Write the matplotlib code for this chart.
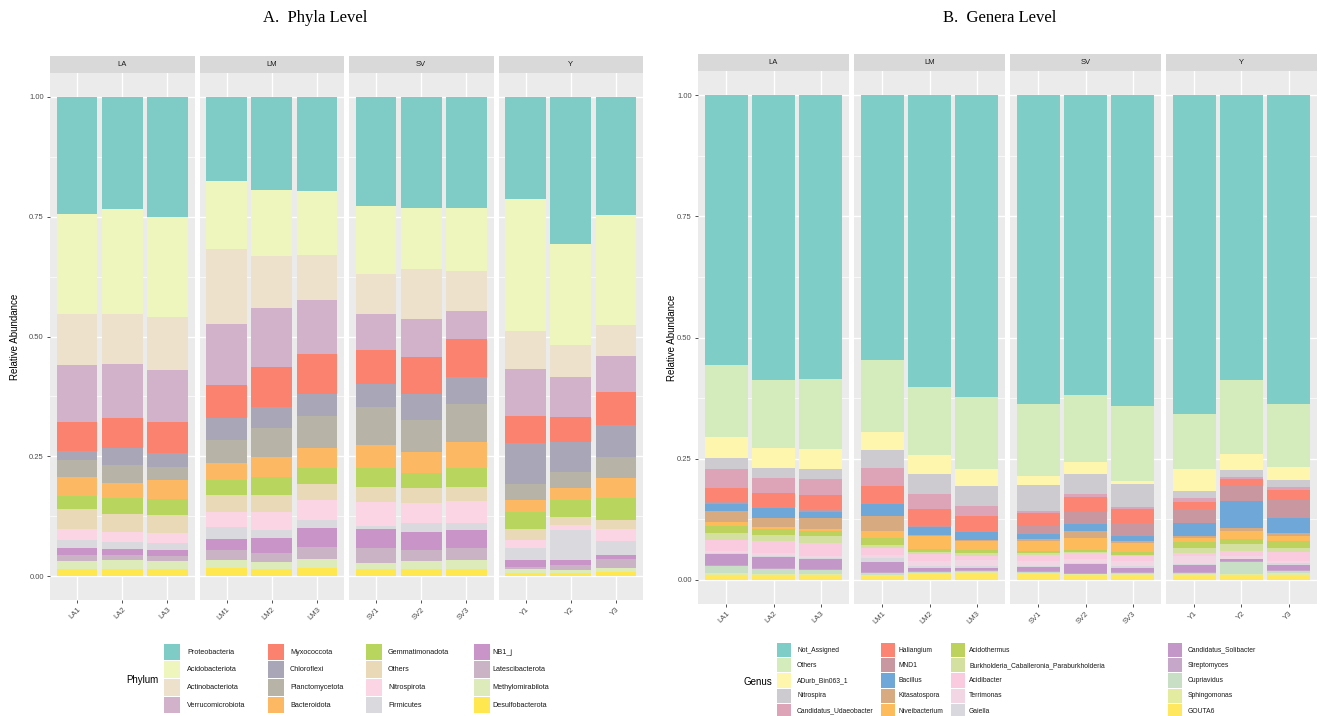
import matplotlib.pyplot as plt
import numpy as np
from matplotlib.patches import Rectangle

# figure size in pixels
W, H = 1321, 716

groups = ['LA', 'LM', 'SV', 'Y']
samples = ['LA1', 'LA2', 'LA3', 'LM1', 'LM2', 'LM3', 'SV1', 'SV2', 'SV3', 'Y1', 'Y2', 'Y3']
sample_group = ['LA', 'LA', 'LA', 'LM', 'LM', 'LM', 'SV', 'SV', 'SV', 'Y', 'Y', 'Y']

# ---- phyla (stack order top -> bottom), values per sample ----
phyla = ['Proteobacteria', 'Acidobacteriota', 'Actinobacteriota', 'Verrucomicrobiota',
         'Myxococcota', 'Chloroflexi', 'Planctomycetota', 'Bacteroidota',
         'Gemmatimonadota', 'Others', 'Nitrospirota', 'Firmicutes',
         'NB1_j', 'Latescibacterota', 'Methylomirabilota', 'Desulfobacterota']
phyla_colors = ['#7FCBC6', '#EEF6BE', '#EDE1CB', '#D2B1CB', '#FC8270', '#A9A6B8',
                '#B7B3A6', '#FDB863', '#B8D65E', '#E9D9B7', '#FBD5E4', '#DAD9DD',
                '#C995C8', '#C9B3C5', '#DDEBBA', '#FFE84F']

proteobacteria = [0.244, 0.233, 0.250, 0.176, 0.194, 0.196, 0.227, 0.231, 0.232, 0.213, 0.307, 0.246]
acidobacteriota = [0.208, 0.219, 0.210, 0.141, 0.137, 0.134, 0.142, 0.128, 0.132, 0.275, 0.210, 0.229]
actinobacteriota = [0.108, 0.106, 0.109, 0.156, 0.110, 0.093, 0.083, 0.104, 0.083, 0.079, 0.068, 0.065]
verrucomicrobiota = [0.119, 0.113, 0.110, 0.129, 0.123, 0.113, 0.077, 0.080, 0.058, 0.098, 0.083, 0.076]
myxococcota = [0.059, 0.062, 0.064, 0.069, 0.083, 0.083, 0.070, 0.076, 0.080, 0.057, 0.052, 0.069]
chloroflexi = [0.020, 0.036, 0.029, 0.046, 0.045, 0.046, 0.048, 0.056, 0.055, 0.085, 0.063, 0.067]
planctomycetota = [0.035, 0.037, 0.028, 0.048, 0.060, 0.068, 0.080, 0.066, 0.080, 0.035, 0.034, 0.044]
bacteroidota = [0.040, 0.032, 0.040, 0.035, 0.041, 0.042, 0.048, 0.044, 0.055, 0.024, 0.025, 0.041]
gemmatimonadota = [0.027, 0.033, 0.033, 0.031, 0.038, 0.032, 0.039, 0.032, 0.039, 0.036, 0.034, 0.046]
others_p = [0.042, 0.037, 0.037, 0.035, 0.035, 0.035, 0.031, 0.031, 0.029, 0.023, 0.018, 0.019]
nitrospirota = [0.023, 0.021, 0.021, 0.031, 0.038, 0.041, 0.051, 0.042, 0.047, 0.017, 0.010, 0.024]
firmicutes = [0.016, 0.015, 0.014, 0.026, 0.017, 0.017, 0.006, 0.018, 0.013, 0.025, 0.063, 0.030]
nb1_j = [0.015, 0.012, 0.013, 0.023, 0.030, 0.039, 0.040, 0.038, 0.039, 0.014, 0.010, 0.009]
latescibacterota = [0.012, 0.011, 0.010, 0.021, 0.019, 0.026, 0.030, 0.022, 0.025, 0.004, 0.010, 0.018]
methylomirabilota = [0.017, 0.018, 0.017, 0.016, 0.015, 0.018, 0.013, 0.017, 0.018, 0.009, 0.007, 0.008]
desulfobacterota = [0.015, 0.015, 0.015, 0.017, 0.015, 0.017, 0.015, 0.015, 0.015, 0.006, 0.006, 0.009]

phyla_values = [proteobacteria, acidobacteriota, actinobacteriota, verrucomicrobiota,
                myxococcota, chloroflexi, planctomycetota, bacteroidota, gemmatimonadota,
                others_p, nitrospirota, firmicutes, nb1_j, latescibacterota,
                methylomirabilota, desulfobacterota]

# ---- genera ----
genera = ['Not_Assigned', 'Others', 'ADurb_Bin063_1', 'Nitrospira', 'Candidatus_Udaeobacter',
          'Haliangium', 'MND1', 'Bacillus', 'Kitasatospora', 'Niveibacterium',
          'Acidothermus', 'Burkholderia_Caballeronia_Paraburkholderia', 'Acidibacter',
          'Terrimonas', 'Gaiella', 'Candidatus_Solibacter', 'Streptomyces', 'Cupriavidus',
          'Sphingomonas', 'GOUTA6']
genera_colors = ['#7FCDC7', '#D4ECBC', '#FFF6AE', '#CDCAD0', '#DDA3B6', '#FC8473',
                 '#C9979F', '#6FA8D8', '#D8AA80', '#FDBB5C', '#BDD25C', '#D3E0A0',
                 '#FACBDF', '#F3D6E4', '#D9D8DE', '#C398C8', '#C7A7C9', '#C8DEC5',
                 '#E2EBA0', '#FFE760']

not_assigned = [0.560, 0.590, 0.587, 0.550, 0.607, 0.622, 0.640, 0.623, 0.640, 0.659, 0.590, 0.640]
others_g = [0.149, 0.141, 0.144, 0.149, 0.142, 0.149, 0.148, 0.139, 0.153, 0.114, 0.152, 0.129]
adurb = [0.042, 0.040, 0.041, 0.037, 0.039, 0.035, 0.020, 0.024, 0.006, 0.045, 0.034, 0.028]
nitrospira = [0.023, 0.022, 0.021, 0.037, 0.041, 0.041, 0.054, 0.042, 0.048, 0.014, 0.015, 0.014]
udaeobacter = [0.039, 0.031, 0.034, 0.038, 0.032, 0.022, 0.004, 0.007, 0.005, 0.009, 0.003, 0.007]
haliangium = [0.030, 0.028, 0.028, 0.034, 0.034, 0.031, 0.027, 0.031, 0.028, 0.014, 0.015, 0.020]
mnd1 = [0.004, 0.003, 0.006, 0.003, 0.003, 0.002, 0.017, 0.025, 0.027, 0.030, 0.031, 0.038]
bacillus = [0.014, 0.020, 0.014, 0.025, 0.016, 0.015, 0.010, 0.014, 0.010, 0.026, 0.055, 0.031]
kitasatospora = [0.023, 0.018, 0.022, 0.030, 0.003, 0.004, 0.004, 0.014, 0.004, 0.004, 0.007, 0.005]
niveibacterium = [0.009, 0.005, 0.005, 0.015, 0.026, 0.017, 0.020, 0.026, 0.018, 0.008, 0.017, 0.011]
acidothermus = [0.014, 0.013, 0.009, 0.014, 0.008, 0.007, 0.005, 0.004, 0.006, 0.014, 0.010, 0.015]
burkholderia = [0.014, 0.012, 0.015, 0.007, 0.004, 0.005, 0.003, 0.002, 0.003, 0.009, 0.014, 0.007]
acidibacter = [0.023, 0.025, 0.026, 0.014, 0.013, 0.010, 0.013, 0.012, 0.011, 0.006, 0.010, 0.020]
terrimonas = [0.005, 0.005, 0.005, 0.007, 0.011, 0.012, 0.010, 0.008, 0.010, 0.017, 0.006, 0.004]
gaiella = [0.002, 0.002, 0.002, 0.008, 0.004, 0.004, 0.003, 0.003, 0.003, 0.003, 0.002, 0.003]
solibacter = [0.023, 0.024, 0.021, 0.021, 0.006, 0.004, 0.007, 0.017, 0.009, 0.014, 0.004, 0.010]
streptomyces = [0.002, 0.002, 0.002, 0.002, 0.002, 0.002, 0.002, 0.002, 0.002, 0.002, 0.002, 0.002]
cupriavidus = [0.015, 0.010, 0.008, 0.004, 0.002, 0.002, 0.002, 0.002, 0.002, 0.003, 0.024, 0.005]
sphingomonas = [0.003, 0.002, 0.002, 0.002, 0.001, 0.001, 0.001, 0.001, 0.002, 0.004, 0.002, 0.007]
gouta6 = [0.010, 0.010, 0.010, 0.008, 0.014, 0.015, 0.014, 0.010, 0.010, 0.007, 0.010, 0.007]

genera_values = [not_assigned, others_g, adurb, nitrospira, udaeobacter, haliangium, mnd1,
                 bacillus, kitasatospora, niveibacterium, acidothermus, burkholderia,
                 acidibacter, terrimonas, gaiella, solibacter, streptomyces, cupriavidus,
                 sphingomonas, gouta6]

plt.rcParams['font.family'] = ['Liberation Sans', 'DejaVu Sans']

fig = plt.figure(figsize=(W / 100, H / 100), dpi=100)


def px_axes(x0, y0, x1, y1):
    return fig.add_axes([x0 / W, 1 - y1 / H, (x1 - x0) / W, (y1 - y0) / H])


def draw_panel(values, colors, facet_x, y_top, y_bot, ylabel_x):
    vals = np.array(values, dtype=float)
    vals = vals / vals.sum(axis=0)
    for gi, g in enumerate(groups):
        x0, x1 = facet_x[gi]
        ax = px_axes(x0, y_top, x1, y_bot)
        ax.set_facecolor('#EBEBEB')
        idx = [i for i, s in enumerate(sample_group) if s == g]
        xs = np.arange(1, len(idx) + 1)
        sub = vals[:, idx]
        bottoms = 1 - np.cumsum(sub, axis=0)
        for t in range(len(sub)):
            ax.bar(xs, sub[t], bottom=bottoms[t], width=0.9, color=colors[t],
                   linewidth=0, zorder=2)
        ax.set_xlim(0.4, 3.6)
        ax.set_ylim(-0.05, 1.05)
        ax.set_yticks([0, 0.25, 0.5, 0.75, 1.0])
        ax.set_yticks([0.125, 0.375, 0.625, 0.875], minor=True)
        ax.set_xticks(xs)
        ax.set_xticklabels([samples[i] for i in idx], rotation=45, ha='right', va='top',
                           rotation_mode='anchor', fontsize=5.5, color='#4D4D4D')
        ax.grid(which='major', color='white', linewidth=1.0, zorder=0)
        ax.grid(which='minor', axis='y', color='white', linewidth=0.5, zorder=0)
        ax.set_axisbelow(True)
        for sp in ax.spines.values():
            sp.set_visible(False)
        ax.tick_params(axis='both', which='major', length=2.5, width=0.6, color='#333333',
                       labelsize=5.5, labelcolor='#4D4D4D', pad=2)
        ax.tick_params(axis='y', which='minor', length=0)
        if gi == 0:
            ax.set_yticklabels(['0.00', '0.25', '0.50', '0.75', '1.00'])
        else:
            ax.tick_params(axis='y', which='major', length=0, labelleft=False)
        # facet strip
        sax = px_axes(x0, y_top - 17, x1, y_top)
        sax.set_facecolor('#D9D9D9')
        sax.set_xticks([])
        sax.set_yticks([])
        for sp in sax.spines.values():
            sp.set_visible(False)
        sax.text(0.5, 0.5, g, ha='center', va='center', fontsize=5.5, color='#1A1A1A',
                 transform=sax.transAxes)
    fig.text(ylabel_x / W, 1 - (y_top + y_bot) / 2 / H, 'Relative Abundance', rotation=90,
             ha='center', va='center', fontsize=7, color='black')


def draw_legend(names, colors, title, title_x, title_y, key_x, text_x, row_y0, row_h,
                key_w, nrow, fs):
    fig.text(title_x / W, 1 - title_y / H, title, ha='left', va='center', fontsize=7)
    for i, (n, c) in enumerate(zip(names, colors)):
        col, row = divmod(i, nrow)
        yc = row_y0 + row * row_h
        fig.add_artist(Rectangle((key_x[col] / W, 1 - (yc + row_h / 2 - 0.5) / H),
                                 key_w / W, (row_h - 1) / H, transform=fig.transFigure,
                                 facecolor=c, edgecolor='none'))
        fig.text(text_x[col] / W, 1 - yc / H, n, ha='left', va='center', fontsize=fs,
                 color='#1A1A1A')


# panel A
facets_a = [(50, 194.5), (199.5, 344), (349, 493.5), (498.5, 643)]
draw_panel(phyla_values, phyla_colors, facets_a, 73, 600, 15)
fig.text(315 / W, 1 - 18 / H, 'A.  Phyla Level', ha='center', va='center', fontsize=12,
         family='Liberation Serif')
draw_legend(phyla, phyla_colors, 'Phylum', 126, 680, [164, 268, 366, 474],
            [187, 290, 388, 492], 652, 17.7, 16, 4, 5.2)

# panel B
facets_b = [(698, 849), (854, 1005), (1010, 1161), (1166, 1317)]
draw_panel(genera_values, genera_colors, facets_b, 71, 604, 672)
fig.text(1000 / W, 1 - 18 / H, 'B.  Genera Level', ha='center', va='center', fontsize=12,
         family='Liberation Serif')
draw_legend(genera, genera_colors, 'Genus', 743, 682, [777, 881, 951, 1168],
            [797, 899, 969, 1188], 650, 15.3, 14, 5, 4.9)

fig.savefig('out.png', dpi=100)
